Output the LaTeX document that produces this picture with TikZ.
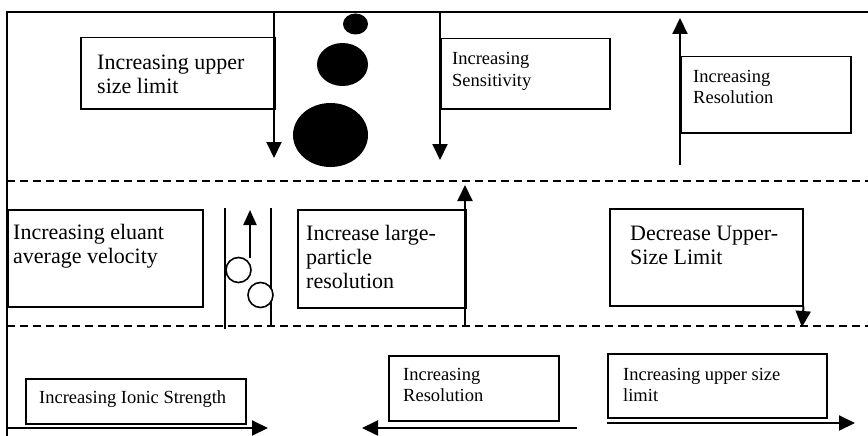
\documentclass[tikz,border=0pt]{standalone}
\usepackage{fontspec}
\setmainfont{Liberation Serif}
\usetikzlibrary{arrows.meta}

% Text nodes are placed by the baseline of their last line.
\tikzset{
  box/.style={draw, line width=1.5pt, rectangle, inner sep=0pt, anchor=north west},
  bigtxt/.style={anchor=base west, inner sep=0pt, align=left,
    font=\fontsize{22}{24}\selectfont},
  smalltxt/.style={anchor=base west, inner sep=0pt, align=left,
    font=\fontsize{18.5}{21.5}\selectfont},
  arr/.style={line width=2pt, -{Triangle[length=16pt,width=15pt]}},
  tubearr/.style={line width=2pt, -{Triangle[length=15pt,width=13pt]}},
  frameline/.style={line width=2pt},
  zoneline/.style={line width=1.8pt, dash pattern=on 8pt off 5pt},
  tubewall/.style={line width=1.8pt},
  bead/.style={draw, line width=1.6pt, fill=white},
}

\begin{document}
\begin{tikzpicture}[x=1pt, y=-1pt]
\useasboundingbox (0,0) rectangle (868,436);

% outer frame and zone separators
\draw[frameline] (7,436) -- (7,12) -- (868,12);
\draw[zoneline] (7,181) -- (868,181);
\draw[zoneline] (7,326) -- (868,326);

% ---- top zone ----
\node[box, minimum width=194pt, minimum height=71pt] (b1) at (80,37) {};
\node[bigtxt] (t1) at (97,93) {Increasing upper\\size limit};

\node[box, minimum width=169pt, minimum height=70pt] (b2) at (440,38) {};
\node[smalltxt] (t2) at (452,86.5) {Increasing\\Sensitivity};

\node[box, minimum width=170pt, minimum height=76pt] (b3) at (680,56) {};
\node[smalltxt] (t3) at (693,103.5) {Increasing\\Resolution};

\coordinate (a1s) at (274,12);  \coordinate (a1e) at (274,158);
\coordinate (a2s) at (440,12);  \coordinate (a2e) at (440,160);
\coordinate (a3s) at (680,165); \coordinate (a3e) at (680,18);
\draw[arr] (a1s) -- (a1e);
\draw[arr] (a2s) -- (a2e);
\draw[arr] (a3s) -- (a3e);

% particles of increasing size
\fill (355.5,24) ellipse [x radius=12.5pt, y radius=10.5pt];
\fill (342.5,64.5) ellipse [x radius=25.5pt, y radius=21.5pt];
\fill (330.5,135) ellipse [x radius=37.5pt, y radius=32pt];

% ---- middle zone ----
\node[box, minimum width=195pt, minimum height=97pt] (b4) at (7,209) {};
\node[bigtxt] (t4) at (13,263) {Increasing eluant\\average velocity};

\node[box, minimum width=168pt, minimum height=98pt] (b5) at (297,209) {};
\node[bigtxt] (t5) at (306,288) {Increase large-\\particle\\resolution};

\node[box, minimum width=193pt, minimum height=97pt] (b6) at (609,208) {};
\node[bigtxt] (t6) at (630,264) {Decrease Upper-\\Size Limit};

% column with beads and flow
\draw[tubewall] (225,208) -- (225,329);
\draw[tubewall] (271,208) -- (271,327);
\coordinate (a6s) at (250,258); \coordinate (a6e) at (250,210);
\draw[tubearr] (a6s) -- (a6e);
\filldraw[bead] (238.5,270) circle [radius=12.5pt];
\filldraw[bead] (260.5,295) circle [radius=12.5pt];

\coordinate (a4s) at (465,327); \coordinate (a4e) at (465,185);
\draw[arr] (a4s) -- (a4e);
\coordinate (a5e) at (802,327);
\draw[arr] (b6.south east) -- (a5e);

% ---- bottom zone ----
\node[box, minimum width=220pt, minimum height=45pt] (b7) at (25,378) {};
\node[smalltxt] (t7) at (39,403) {Increasing Ionic Strength};

\node[box, minimum width=170pt, minimum height=65pt] (b8) at (388,355) {};
\node[smalltxt] (t8) at (403,401.5) {Increasing\\Resolution};

\node[box, minimum width=219pt, minimum height=64pt] (b9) at (607,353) {};
\node[smalltxt] (t9) at (623,401.5) {Increasing upper size\\limit};

\coordinate (a7s) at (7,428);   \coordinate (a7e) at (268,428);
\coordinate (a8s) at (577,428); \coordinate (a8e) at (362,428);
\coordinate (a9s) at (607,423); \coordinate (a9e) at (855,423);
\draw[arr] (a7s) -- (a7e);
\draw[arr] (a8s) -- (a8e);
\draw[arr] (a9s) -- (a9e);
\end{tikzpicture}
\end{document}
